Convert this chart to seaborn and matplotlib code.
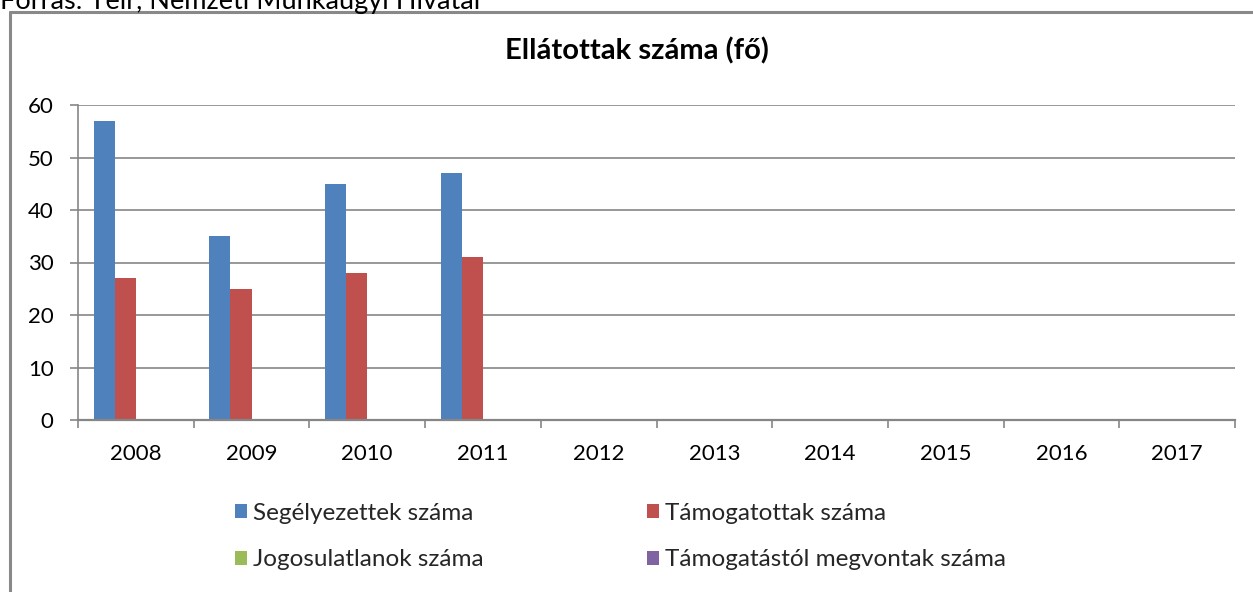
import numpy as np
import pandas as pd
import matplotlib
matplotlib.use("Agg")
import matplotlib.pyplot as plt
from matplotlib.lines import Line2D
import seaborn as sns

# ---- data ----
years = ["2008", "2009", "2010", "2011", "2012", "2013", "2014", "2015", "2016", "2017"]
segelyezettek = [57, 35, 45, 47, np.nan, np.nan, np.nan, np.nan, np.nan, np.nan]
tamogatottak = [27, 25, 28, 31, np.nan, np.nan, np.nan, np.nan, np.nan, np.nan]
jogosulatlanok = [0, 0, 0, 0, np.nan, np.nan, np.nan, np.nan, np.nan, np.nan]
megvontak = [0, 0, 0, 0, np.nan, np.nan, np.nan, np.nan, np.nan, np.nan]
series_names = ["Segélyezettek száma", "Támogatottak száma",
                "Jogosulatlanok száma", "Támogatástól megvontak száma"]
series_colors = ["#4F81BD", "#C0504D", "#9BBB59", "#8064A2"]
title = "Ellátottak száma (fő)"
source = "Forrás: Teir, Nemzeti Munkaügyi Hivatal"
yticks = [0, 10, 20, 30, 40, 50, 60]

rows = []
for name, vals in zip(series_names, [segelyezettek, tamogatottak, jogosulatlanok, megvontak]):
    for y, v in zip(years, vals):
        rows.append({"year": y, "series": name, "value": v})
df = pd.DataFrame(rows)

sns.set_theme(style="white")
plt.rcParams["font.family"] = ["Lato", "DejaVu Sans"]

W, H = 1253, 592
fig = plt.figure(figsize=(W / 100, H / 100), dpi=100)
ax = fig.add_axes([78 / W, 1 - 420 / H, (1235 - 78) / W, (420 - 105) / H])

sns.barplot(data=df, x="year", y="value", hue="series", order=years,
            hue_order=series_names, palette=series_colors, errorbar=None,
            width=0.73, linewidth=0, saturation=1, ax=ax)

ax.set_xlim(-0.5, len(years) - 0.5)
ax.set_ylim(0, 60)
ax.set_yticks(yticks)
ax.set_yticklabels([str(t) for t in yticks])
ax.set_xlabel("")
ax.set_ylabel("")

grid_c = "#868686"
ax.yaxis.grid(True, color=grid_c, linewidth=1.2)
ax.set_axisbelow(True)
for s in ["top", "right"]:
    ax.spines[s].set_visible(False)
ax.spines["left"].set_color(grid_c)
ax.spines["left"].set_linewidth(1.2)
ax.spines["bottom"].set_color(grid_c)
ax.spines["bottom"].set_linewidth(1.6)

ax.tick_params(axis="y", which="major", left=True, length=6, width=1.2,
               color=grid_c, pad=11.5, labelsize=16, labelcolor="black")
ax.tick_params(axis="x", which="major", bottom=False, length=0, pad=17.5,
               labelsize=16, labelcolor="black")
ax.set_xticks(np.arange(-0.5, len(years), 1.0), minor=True)
ax.tick_params(axis="x", which="minor", bottom=True, length=6, width=1.2,
               color=grid_c, direction="out")

fig.text(637 / W, 1 - 51 / H, title, ha="center", va="center",
         fontsize=21, fontweight="bold", color="black")
fig.text(0 / W, 1 - 9 / H, source, ha="left", va="baseline",
         fontsize=19.5, color="black")

# chart frame
frame_c = "#898989"
fig.add_artist(Line2D([10 / W, 10 / W], [0, 1 - 12 / H], color=frame_c,
                      linewidth=2.2, transform=fig.transFigure))
fig.add_artist(Line2D([10 / W, 1], [1 - 12 / H, 1 - 12 / H], color=frame_c,
                      linewidth=2.2, transform=fig.transFigure))

handles, labels = ax.get_legend_handles_labels()
if ax.get_legend() is not None:
    ax.get_legend().remove()
hmap = dict(zip(labels, handles))
order = [series_names[0], series_names[2], series_names[1], series_names[3]]
leg = fig.legend([hmap[n] for n in order], order, ncol=2,
                 loc="upper left", bbox_to_anchor=(235 / W, 1 - 503 / H),
                 frameon=False, fontsize=17.5, handlelength=0.5, handleheight=0.5,
                 handletextpad=0.25, columnspacing=6.7, labelspacing=1.04,
                 borderaxespad=0, borderpad=0)

fig.savefig("out.png", dpi=100, facecolor="white")
